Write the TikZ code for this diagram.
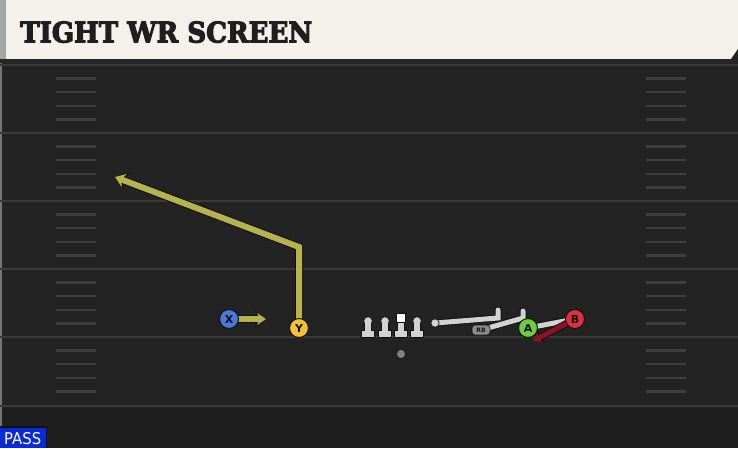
\documentclass[tikz,border=0pt]{standalone}
\usepackage{fontspec}
\newfontfamily\titlefont{DejaVu Serif}[BoldFeatures={FakeBold=4}]
\newfontfamily\labfont{DejaVu Sans}
\usetikzlibrary{arrows.meta}
\definecolor{fieldbg}{HTML}{232323}
\definecolor{fieldlow}{HTML}{1F1F1F}
\definecolor{yardc}{HTML}{3A3A3A}
\definecolor{hashc}{HTML}{3E3E3E}
\definecolor{headerc}{HTML}{F4F1EA}
\definecolor{titlec}{HTML}{1F1F1F}
\definecolor{olivec}{HTML}{B7B24C}
\definecolor{bluex}{HTML}{4A78DC}
\definecolor{yellowy}{HTML}{F2C230}
\definecolor{greena}{HTML}{6CCF3A}
\definecolor{redb}{HTML}{E0303C}
\definecolor{darkred}{HTML}{8B1326}
\definecolor{blockc}{HTML}{D2D2D2}
\definecolor{passblue}{HTML}{0A2AD8}
\definecolor{outc}{HTML}{111111}
\tikzset{
  player/.style={circle, draw=outc, line width=1pt, minimum size=19pt, inner sep=0pt,
    font=\labfont\bfseries\fontsize{11}{11}\selectfont, text=outc},
  yardline/.style={draw=yardc, line width=2pt},
  hashline/.style={draw=hashc, line width=2.4pt},
  routeout/.style={draw=outc, line width=8pt, line join=miter},
  routein/.style={draw=olivec, line width=6pt, line join=miter},
  blockout/.style={draw=outc, line width=7pt, line cap=round},
  blockin/.style={draw=blockc, line width=5pt, line cap=round},
  linemanc/.style={fill=blockc, draw=outc, line width=0.7pt},
}
\begin{document}
\begin{tikzpicture}[x=1pt,y=-1pt]
\useasboundingbox (0,0) rectangle (738,448);
% field
\fill[fieldbg] (0,0) rectangle (738,448);
\fill[fieldlow] (0,408) rectangle (738,448);
\draw[draw=yardc!70, line width=1.5pt] (1,60) -- (1,448);
% yard lines
\foreach \yy in {65,133,201,269,337,406} {
  \draw[yardline] (0,\yy) -- (738,\yy);
}
% hash marks
\foreach \base in {65,133,201,269,337} {
  \foreach \k in {1,2,3,4} {
    \draw[hashline] (56,\base+13.6*\k) -- (96,\base+13.6*\k);
    \draw[hashline] (646,\base+13.6*\k) -- (686,\base+13.6*\k);
  }
}
% header
\fill[black!85] (0,59) rectangle (738,63);
\fill[headerc] (0,0) rectangle (738,59);
\fill[black!35] (0,0) rectangle (6,59);
\fill[fieldbg] (738,49) -- (738,59) -- (731,59) -- cycle;
\node[anchor=south west, inner sep=0pt, text=titlec] (title) at (20,43)
  {\resizebox{292pt}{21pt}{\titlefont\bfseries TIGHT WR SCREEN}};
% PASS badge
\fill[outc] (0,426) rectangle (47,448);
\fill[passblue] (0,428) rectangle (46,448);
\node[anchor=south west, inner sep=0pt, text=white] (pass) at (4,445)
  {\resizebox{37pt}{12pt}{\labfont PASS}};

% coordinates of routes
\coordinate (ycorner) at (299,247);
\coordinate (ytip) at (115,177);
\coordinate (xtip) at (266,319);
\coordinate (bl1s) at (435,323);
\coordinate (bl1e) at (498,318);
\coordinate (bl2e) at (523,318);
\coordinate (redtip) at (533,341);

% Y route
\draw[routeout, -{Stealth[length=12pt,width=18pt,inset=4pt]}] (299,328) -- (ycorner) -- (ytip);
\draw[routein, -{Stealth[length=10pt,width=14pt,inset=3.5pt]}] (299,328) -- (ycorner) -- (ytip);
% X route
\draw[routeout, -{Stealth[length=11pt,width=16pt,inset=3.5pt]}] (229,319) -- (xtip);
\draw[routein, -{Stealth[length=9pt,width=12pt,inset=3pt]}] (229,319) -- (xtip);

% blocking lines
\draw[blockout] (bl1s) -- (bl1e) -- ++(0,-8);
\draw[blockin] (bl1s) -- (bl1e) -- ++(0,-8);
\draw[blockout] (481,330) -- (bl2e) -- ++(0,-7);
\draw[blockin] (481,330) -- (bl2e) -- ++(0,-7);
\fill[blockc, draw=outc, line width=0.7pt] (bl1s) circle (4.2pt);
% A to B connector
\draw[blockout, line cap=butt] (528,328) -- (575,319);
\draw[blockin, line cap=butt] (528,328) -- (575,319);
% B red route
\draw[draw=outc, line width=7pt, -{Stealth[length=10pt,width=14pt,inset=3pt]}] (575,319) -- (redtip);
\draw[draw=darkred, line width=5pt, -{Stealth[length=8pt,width=11pt,inset=2.5pt]}] (575,319) -- (redtip);

% linemen
\foreach \lx in {368,385,417} {
  \fill[linemanc] (\lx-6.5,330) rectangle (\lx+6.5,337);
  \fill[linemanc] (\lx-3.2,322) rectangle (\lx+3.2,330.5);
  \fill[linemanc] (\lx,321) circle (4.3pt);
  \fill[blockc] (\lx-2.8,322) rectangle (\lx+2.8,330.8);
}
\fill[linemanc] (394.5,330) rectangle (407.5,337);
\fill[linemanc] (397.8,321) rectangle (404.2,330.5);
\fill[blockc] (398.2,322) rectangle (403.8,330.8);
\fill[fill=white, draw=outc, line width=0.7pt] (396.5,313.5) rectangle (405.5,322.5);
% ball
\fill[fill=black!50, draw=outc, line width=0.5pt] (401,354) circle (4.5pt);

% RB label
\node[fill=black!45, draw=outc, line width=0.7pt, rounded corners=3pt, inner sep=0pt,
  minimum width=18pt, minimum height=10pt, text=outc,
  font=\labfont\bfseries\fontsize{6}{6}\selectfont] (rb) at (481,330) {RB};

% players
\node[player, fill=bluex] (X) at (229,319) {X};
\node[player, fill=yellowy] (Y) at (299,328) {Y};
\node[player, fill=greena] (A) at (528,328) {A};
\node[player, fill=redb] (B) at (575,319) {B};
\end{tikzpicture}
\end{document}
